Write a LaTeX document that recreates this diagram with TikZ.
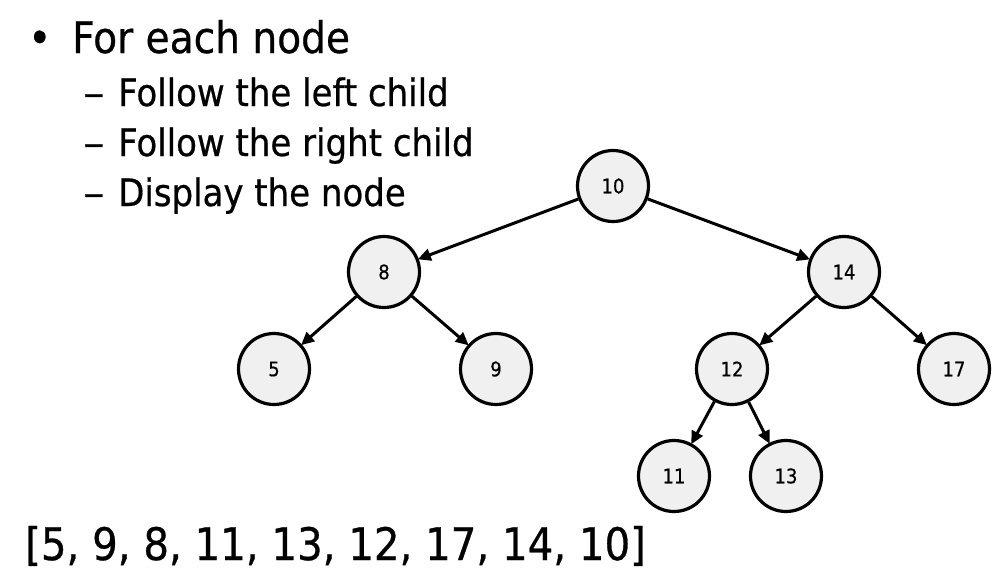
\documentclass[tikz,border=0pt]{standalone}
\usepackage{fontspec}
\setmainfont{DejaVu Sans Condensed}[FakeBold=0.6]
\usetikzlibrary{arrows.meta}
\tikzset{
  tn/.style={circle, draw=black, line width=3.2pt, fill=black!6, minimum size=71pt, inner sep=0pt, font=\fontsize{20}{20}\selectfont},
  edge/.style={line width=3pt, -{Triangle[length=13pt,width=12pt]}, shorten >=-1pt},
  txt/.style={anchor=base west, inner sep=0pt},
  big/.style={font=\fontsize{43.5}{43.5}\selectfont},
  mid/.style={font=\fontsize{37.8}{37.8}\selectfont}
}
\begin{document}
\begin{tikzpicture}[x=1pt,y=-1pt]
\useasboundingbox (0,0) rectangle (999,581);
\fill[white] (0,0) rectangle (999,581);
% text
\node[txt, big] (b0) at (28,53) {•};
\node[txt, big] (t0) at (72,53) {For each node};
\node[txt, mid] (d1) at (83,106) {\scalebox{1.25}[1]{–}};
\node[txt, mid] (t1) at (118,106) {Follow the left child};
\node[txt, mid] (d2) at (83,156) {\scalebox{1.25}[1]{–}};
\node[txt, mid] (t2) at (118,156) {Follow the right child};
\node[txt, mid] (d3) at (83,206) {\scalebox{1.25}[1]{–}};
\node[txt, mid] (t3) at (118,206) {Display the node};
\node[txt, font=\fontsize{44.8}{44.8}\selectfont] (res) at (25,560) {[5, 9, 8, 11, 13, 12, 17, 14, 10]};
% tree
\node[tn] (n10) at (613,186) {10};
\node[tn] (n8) at (384,272) {8};
\node[tn] (n14) at (844,272) {14};
\node[tn] (n5) at (274,369) {5};
\node[tn] (n9) at (496,369) {9};
\node[tn] (n12) at (732,369) {12};
\node[tn] (n17) at (954,369) {17};
\node[tn] (n11) at (674,476) {11};
\node[tn] (n13) at (786,476) {13};
\draw[edge] (n10) -- (n8);
\draw[edge] (n10) -- (n14);
\draw[edge] (n8) -- (n5);
\draw[edge] (n8) -- (n9);
\draw[edge] (n14) -- (n12);
\draw[edge] (n14) -- (n17);
\draw[edge] (n12) -- (n11);
\draw[edge] (n12) -- (n13);
\end{tikzpicture}
\end{document}
